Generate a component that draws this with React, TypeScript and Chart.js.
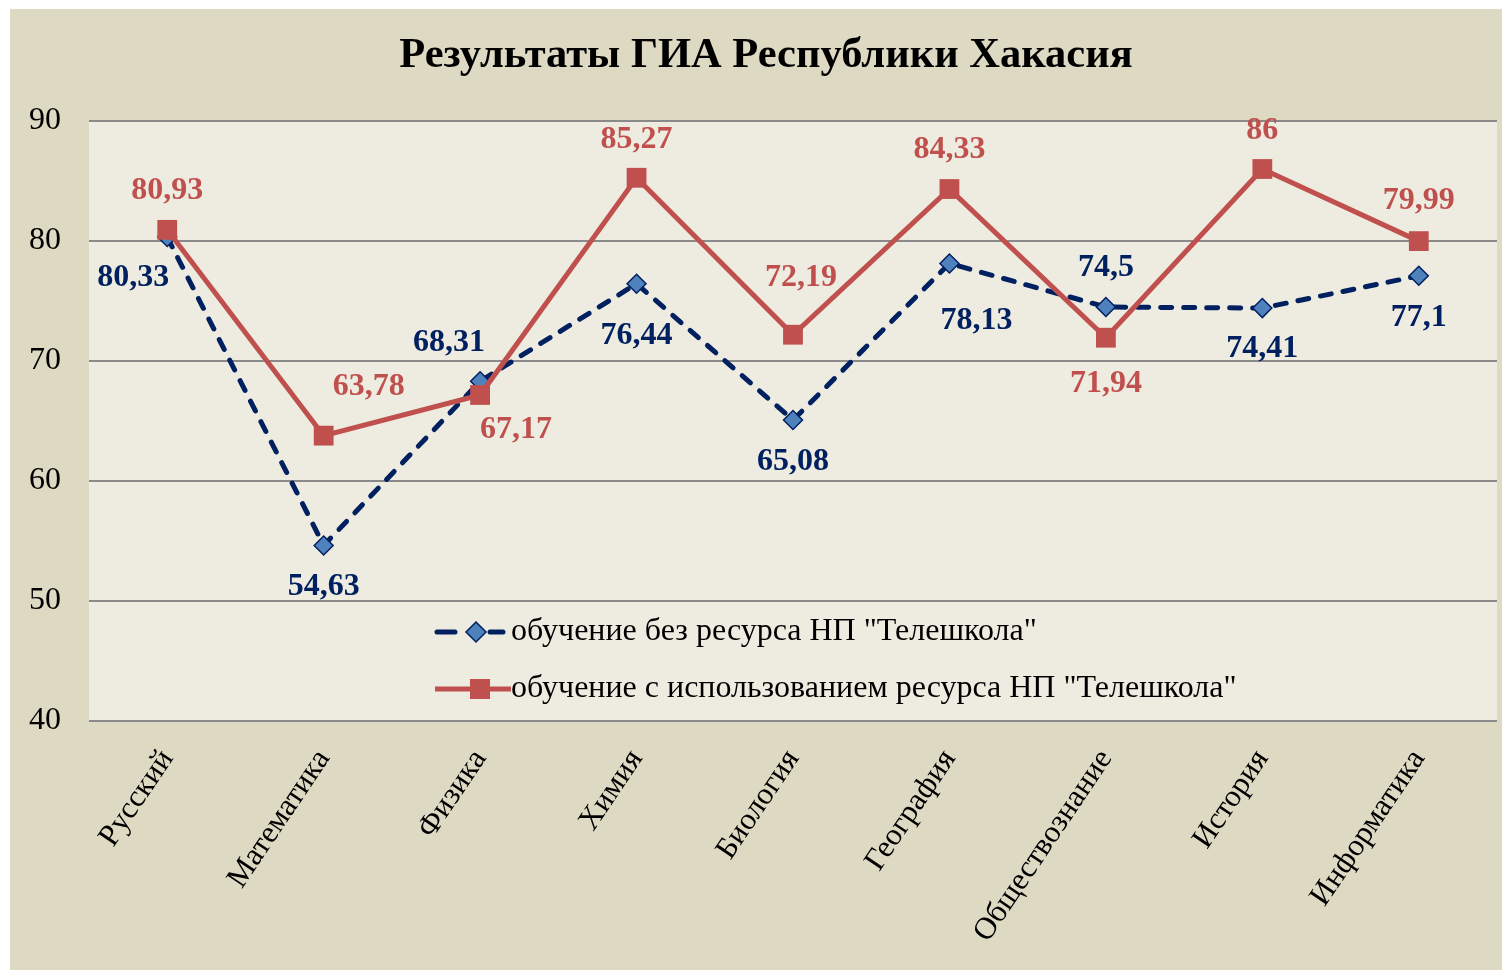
import React, { useEffect, useRef } from 'react';
import { Chart, registerables } from 'chart.js';

Chart.register(...registerables);

const chartTitle = 'Результаты ГИА Республики Хакасия';
const categories = ['Русский', 'Математика', 'Физика', 'Химия', 'Биология', 'География', 'Обществознание', 'История', 'Информатика'];
const withoutResource = [80.33, 54.63, 68.31, 76.44, 65.08, 78.13, 74.5, 74.41, 77.1];
const withResource = [80.93, 63.78, 67.17, 85.27, 72.19, 84.33, 71.94, 86, 79.99];
const yTicks = [40, 50, 60, 70, 80, 90];
const seriesNames = ['обучение без ресурса НП "Телешкола"', 'обучение с использованием ресурса НП "Телешкола"'];

// label placement (style only): offset of the label centre from its point, in px
const blueLabelOffsets: [number, number][] = [[-34, 41], [0, 41], [-31, -39], [0, 52], [0, 42], [27, 57], [0, -39], [0, 41], [0, 42]];
const redLabelOffsets: [number, number][] = [[0, -39], [45, -49], [36, 35], [0, -38], [8, -57], [0, -39], [0, 46], [0, -38], [0, -40]];

const BLUE = '#002060';
const BLUE_FILL = '#4f81bd';
const RED = '#c0504d';
const OUTER_BG = '#ddd9c3';
const PLOT_BG = '#eeece1';
const GRID = '#8a8a8a';
const FONT = "'Liberation Serif', 'Times New Roman', serif";

const fmt = (v: number) => String(v).replace('.', ',');

const bgPlugin = {
  id: 'bgPlugin',
  beforeDraw(chart: any) {
    const { ctx, chartArea, width, height } = chart;
    ctx.save();
    ctx.fillStyle = OUTER_BG;
    ctx.fillRect(0, 0, width, height);
    ctx.fillStyle = PLOT_BG;
    ctx.fillRect(chartArea.left, chartArea.top, chartArea.right - chartArea.left, chartArea.bottom - chartArea.top);
    ctx.restore();
  },
};

const titlePlugin = {
  id: 'titleText',
  afterDraw(chart: any) {
    const { ctx } = chart;
    ctx.save();
    ctx.font = `bold 42.5px ${FONT}`;
    ctx.fillStyle = '#000';
    ctx.textAlign = 'center';
    ctx.textBaseline = 'middle';
    ctx.fillText(chartTitle, 756, 47);
    ctx.restore();
  },
};

const labelsPlugin = {
  id: 'valueLabels',
  afterDatasetsDraw(chart: any) {
    const { ctx } = chart;
    const offsets = [blueLabelOffsets, redLabelOffsets];
    const colors = [BLUE, RED];
    ctx.save();
    ctx.font = `bold 32px ${FONT}`;
    ctx.textAlign = 'center';
    ctx.textBaseline = 'middle';
    chart.data.datasets.forEach((ds: any, di: number) => {
      const meta = chart.getDatasetMeta(di);
      meta.data.forEach((pt: any, i: number) => {
        const [dx, dy] = offsets[di][i];
        ctx.fillStyle = colors[di];
        ctx.fillText(fmt(ds.data[i]), pt.x + dx, pt.y + dy);
      });
    });
    ctx.restore();
  },
};

const legendPlugin = {
  id: 'innerLegend',
  afterDraw(chart: any) {
    const { ctx, chartArea } = chart;
    const x0 = chartArea.left + 346;
    const tx = chartArea.left + 422;
    const rows = [chartArea.top + 511, chartArea.top + 568];
    ctx.save();
    // series 1 symbol
    let y = rows[0];
    ctx.strokeStyle = BLUE;
    ctx.lineWidth = 5;
    ctx.lineCap = 'round';
    ctx.beginPath();
    ctx.moveTo(x0 + 2, y); ctx.lineTo(x0 + 20, y);
    ctx.moveTo(x0 + 55, y); ctx.lineTo(x0 + 68, y);
    ctx.stroke();
    const cx = x0 + 41;
    ctx.beginPath();
    ctx.moveTo(cx, y - 10); ctx.lineTo(cx + 10, y); ctx.lineTo(cx, y + 10); ctx.lineTo(cx - 10, y); ctx.closePath();
    ctx.fillStyle = BLUE_FILL;
    ctx.fill();
    ctx.lineWidth = 1.5;
    ctx.stroke();
    // series 2 symbol
    y = rows[1];
    ctx.strokeStyle = RED;
    ctx.lineWidth = 5;
    ctx.lineCap = 'butt';
    ctx.beginPath();
    ctx.moveTo(x0, y); ctx.lineTo(x0 + 76, y);
    ctx.stroke();
    ctx.fillStyle = RED;
    ctx.fillRect(x0 + 35, y - 10, 20, 20);
    // text
    ctx.fillStyle = '#000';
    ctx.font = `32px ${FONT}`;
    ctx.textAlign = 'left';
    ctx.textBaseline = 'middle';
    ctx.fillText(seriesNames[0], tx, rows[0]);
    ctx.fillText(seriesNames[1], tx, rows[1]);
    ctx.restore();
  },
};

export default function App() {
  const ref = useRef<HTMLCanvasElement | null>(null);

  useEffect(() => {
    if (!ref.current) return;
    const chart = new Chart(ref.current, {
      type: 'line',
      data: {
        labels: categories,
        datasets: [
          {
            label: seriesNames[0],
            data: withoutResource,
            borderColor: BLUE,
            borderWidth: 5,
            borderDash: [11, 12],
            borderCapStyle: 'round',
            pointStyle: 'rectRot',
            pointRadius: 9.5,
            pointHoverRadius: 9.5,
            pointBackgroundColor: BLUE_FILL,
            pointBorderColor: BLUE,
            pointBorderWidth: 1.5,
            tension: 0,
            order: 1,
          },
          {
            label: seriesNames[1],
            data: withResource,
            borderColor: RED,
            borderWidth: 5,
            pointStyle: 'rect',
            pointRadius: 14,
            pointHoverRadius: 14,
            pointBackgroundColor: RED,
            pointBorderColor: RED,
            pointBorderWidth: 0,
            tension: 0,
            order: 0,
          },
        ],
      },
      options: {
        responsive: false,
        animation: false,
        layout: { autoPadding: false, padding: { left: 0, right: 5, top: 112, bottom: 0 } },
        plugins: {
          legend: { display: false },
          tooltip: { enabled: false },
          title: { display: false },
        },
        scales: {
          x: {
            offset: true,
            grid: { display: false, drawTicks: false },
            border: { display: false },
            ticks: {
              color: '#000',
              font: { family: FONT, size: 31 },
              minRotation: 56,
              maxRotation: 56,
              autoSkip: false,
              padding: 22,
            },
            afterFit: (scale: any) => {
              scale.height = 249;
              scale.paddingLeft = 0;
              scale.paddingRight = 0;
            },
          },
          y: {
            min: yTicks[0],
            max: yTicks[yTicks.length - 1],
            grid: { color: GRID, lineWidth: 2, drawTicks: false },
            border: { display: false },
            ticks: {
              stepSize: yTicks[1] - yTicks[0],
              color: '#000',
              font: { family: FONT, size: 32 },
              padding: 28,
            },
            afterFit: (scale: any) => {
              scale.width = 79;
              scale.paddingTop = 0;
              scale.paddingBottom = 0;
            },
          },
        },
      },
      plugins: [bgPlugin, labelsPlugin, legendPlugin, titlePlugin],
    } as any);
    return () => chart.destroy();
  }, []);

  return (
    <div style={{ position: 'absolute', left: 10, top: 9, width: 1492, height: 961 }}>
      <canvas ref={ref} width={1492} height={961} style={{ display: 'block', width: 1492, height: 961 }} />
    </div>
  );
}
